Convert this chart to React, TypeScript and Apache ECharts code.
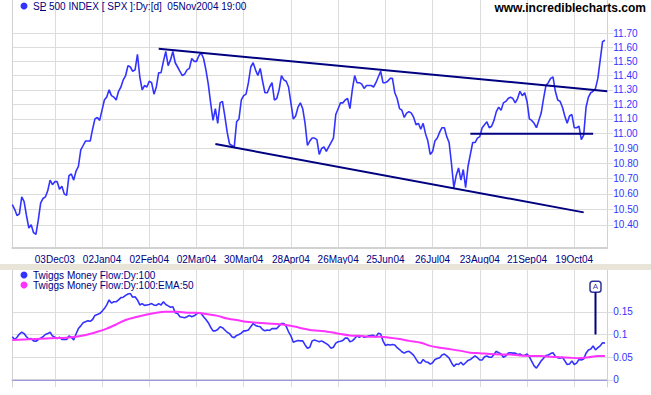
import React, { useEffect, useRef } from "react";
import * as echarts from "echarts";

const FONT = '"Liberation Sans", Arial, sans-serif';

// x axis: one category per trading day (06Nov03 .. 05Nov04) plus one spare slot
const N_CATEGORIES = 253;
const tickStart = 18;
const tickStep = 20;
const tickLabels = [
  "03Dec03", "02Jan04", "02Feb04", "02Mar04", "30Mar04", "28Apr04",
  "26May04", "25Jun04", "26Jul04", "23Aug04", "21Sep04", "19Oct04",
];

// S&P 500 / 100, daily close
const price = [
  10.53, 10.50, 10.46, 10.47, 10.58, 10.55, 10.46, 10.38, 10.40, 10.35,
  10.34, 10.43, 10.54, 10.57, 10.58, 10.62, 10.69, 10.66, 10.68, 10.68,
  10.63, 10.65, 10.60, 10.59, 10.72, 10.73, 10.69, 10.75, 10.78, 10.89,
  10.92, 10.95, 10.95, 10.95, 11.03, 11.10, 11.11, 11.09, 11.16, 11.23,
  11.25, 11.30, 11.26, 11.25, 11.23, 11.29, 11.32, 11.37, 11.40, 11.47,
  11.46, 11.43, 11.44, 11.55, 11.39, 11.30, 11.33, 11.32, 11.36, 11.35,
  11.27, 11.32, 11.42, 11.42, 11.50, 11.57, 11.47, 11.51, 11.57, 11.49,
  11.46, 11.43, 11.40, 11.41, 11.44, 11.45, 11.52, 11.50, 11.50, 11.54,
  11.56, 11.52, 11.44, 11.34, 11.21, 11.09, 11.17, 11.07, 11.21, 11.22,
  11.12, 11.01, 10.93, 10.92, 10.91, 11.08, 11.10, 11.23, 11.26, 11.27,
  11.35, 11.46, 11.49, 11.44, 11.40, 11.45, 11.36, 11.28, 11.28, 11.32,
  11.35, 11.23, 11.24, 11.30, 11.40, 11.37, 11.36, 11.32, 11.21, 11.10,
  11.12, 11.18, 11.21, 11.17, 11.07, 10.92, 10.95, 10.97, 10.97, 10.96,
  10.86, 10.90, 10.91, 10.88, 10.91, 10.94, 10.97, 11.13, 11.17, 11.21,
  11.21, 11.23, 11.24, 11.17, 11.30, 11.40, 11.35, 11.35, 11.34, 11.31,
  11.33, 11.33, 11.33, 11.32, 11.35, 11.39, 11.43, 11.35, 11.35, 11.36,
  11.38, 11.38, 11.28, 11.24, 11.17, 11.16, 11.11, 11.14, 11.15, 11.14,
  11.11, 11.06, 11.07, 11.03, 11.07, 11.00, 10.95, 10.86, 10.88, 10.95,
  10.97, 11.01, 11.04, 11.04, 10.98, 10.94, 10.80, 10.64, 10.72, 10.77,
  10.69, 10.76, 10.64, 10.78, 10.86, 10.94, 10.94, 10.97, 10.98, 11.04,
  11.06, 11.08, 11.04, 11.05, 11.09, 11.15, 11.18, 11.16, 11.21, 11.22,
  11.24, 11.25, 11.24, 11.21, 11.24, 11.29, 11.26, 11.28, 11.22, 11.10,
  11.09, 11.07, 11.04, 11.09, 11.14, 11.24, 11.33, 11.35, 11.38, 11.39,
  11.29, 11.23, 11.22, 11.18, 11.12, 11.07, 11.12, 11.13, 11.04, 11.04,
  11.05, 10.96, 10.99, 11.18, 11.25, 11.28, 11.29, 11.31, 11.38, 11.51,
  11.64, 11.65,
];

// Twiggs Money Flow (100 day)
const moneyFlow = [
  0.095, 0.089, 0.094, 0.101, 0.105, 0.102, 0.095, 0.090, 0.091, 0.086,
  0.085, 0.089, 0.092, 0.095, 0.100, 0.102, 0.105, 0.097, 0.094, 0.091,
  0.094, 0.089, 0.089, 0.089, 0.097, 0.094, 0.088, 0.101, 0.113, 0.119,
  0.126, 0.128, 0.130, 0.129, 0.133, 0.142, 0.144, 0.146, 0.151, 0.157,
  0.165, 0.176, 0.169, 0.172, 0.172, 0.176, 0.181, 0.182, 0.186, 0.189,
  0.190, 0.182, 0.183, 0.176, 0.165, 0.168, 0.164, 0.165, 0.166, 0.168,
  0.165, 0.164, 0.168, 0.165, 0.172, 0.166, 0.163, 0.160, 0.161, 0.148,
  0.146, 0.139, 0.138, 0.137, 0.139, 0.142, 0.139, 0.141, 0.145, 0.148,
  0.146, 0.139, 0.133, 0.126, 0.116, 0.108, 0.108, 0.111, 0.117, 0.115,
  0.110, 0.105, 0.102, 0.095, 0.093, 0.098, 0.100, 0.103, 0.108, 0.108,
  0.110, 0.117, 0.124, 0.120, 0.118, 0.117, 0.111, 0.108, 0.110, 0.109,
  0.113, 0.113, 0.113, 0.119, 0.124, 0.124, 0.118, 0.106, 0.097, 0.083,
  0.085, 0.087, 0.086, 0.086, 0.077, 0.070, 0.072, 0.086, 0.088, 0.086,
  0.084, 0.086, 0.083, 0.080, 0.076, 0.070, 0.072, 0.081, 0.084, 0.085,
  0.087, 0.092, 0.092, 0.084, 0.086, 0.091, 0.097, 0.094, 0.097, 0.094,
  0.095, 0.097, 0.098, 0.098, 0.094, 0.103, 0.101, 0.086, 0.076, 0.078,
  0.077, 0.078, 0.077, 0.071, 0.067, 0.062, 0.059, 0.062, 0.063, 0.059,
  0.054, 0.046, 0.038, 0.037, 0.045, 0.040, 0.039, 0.035, 0.038, 0.045,
  0.047, 0.049, 0.055, 0.057, 0.053, 0.048, 0.038, 0.030, 0.035, 0.034,
  0.039, 0.033, 0.038, 0.043, 0.045, 0.049, 0.053, 0.049, 0.044, 0.044,
  0.051, 0.053, 0.050, 0.050, 0.056, 0.063, 0.060, 0.057, 0.050, 0.053,
  0.059, 0.060, 0.059, 0.059, 0.056, 0.057, 0.054, 0.054, 0.057, 0.051,
  0.041, 0.031, 0.026, 0.034, 0.042, 0.048, 0.054, 0.055, 0.058, 0.060,
  0.052, 0.049, 0.048, 0.050, 0.042, 0.034, 0.035, 0.042, 0.034, 0.037,
  0.045, 0.044, 0.046, 0.059, 0.066, 0.068, 0.075, 0.066, 0.071, 0.075,
  0.082, 0.081,
];

// EMA(50) of money flow, read at these day indices
const emaIdx = [
  0, 9, 16, 23, 27, 32, 36, 40, 44, 48, 53, 57, 61, 65, 70, 74, 78, 82, 87, 91,
  95, 99, 104, 108, 112, 116, 120, 123, 126, 130, 135, 139, 143, 147, 152, 156,
  160, 164, 168, 173, 177, 181, 185, 190, 194, 198, 202, 207, 211, 215, 219,
  224, 228, 232, 236, 240, 244, 248, 251,
];
const emaVal = [
  0.088, 0.090, 0.092, 0.093, 0.095, 0.100, 0.106, 0.113, 0.122, 0.132, 0.139,
  0.144, 0.148, 0.150, 0.150, 0.148, 0.148, 0.145, 0.141, 0.135, 0.132, 0.128,
  0.126, 0.124, 0.123, 0.121, 0.117, 0.113, 0.110, 0.108, 0.105, 0.101, 0.098,
  0.097, 0.095, 0.095, 0.093, 0.090, 0.086, 0.082, 0.075, 0.071, 0.068, 0.064,
  0.060, 0.059, 0.057, 0.056, 0.056, 0.054, 0.053, 0.053, 0.051, 0.050, 0.049,
  0.048, 0.050, 0.053, 0.053,
];

// price axis (log scale) ticks and range
const priceTicks = [10.4, 10.5, 10.6, 10.7, 10.8, 10.9, 11.0, 11.1, 11.2, 11.3, 11.4, 11.5, 11.6, 11.7];
const priceMin = 10.253;
const priceMax = 11.942;
// money flow axis
const mfTicks = [0, 0.05, 0.1, 0.15];
const mfTickLabels = ["0", "0.05", "0.1", "0.15"];
const mfMin = -0.0154;
const mfMax = 0.2418;

// trend lines drawn on the chart: [dayIndex, price]
const trendUpper = [[62, 11.59], [252, 11.29]];
const trendLower = [[86, 10.93], [242, 10.48]];
const trendFlat = [[194, 11.0], [246, 11.0]];

// alert marker on money flow
const alertIdx = 247;
const alertFrom = 0.1;
const alertTo = 0.193;
const alertBox = 0.205;

const categories = Array.from({ length: N_CATEGORIES }, (_, i) => String(i));
const isTick = (i: number) =>
  i >= tickStart && (i - tickStart) % tickStep === 0 && (i - tickStart) / tickStep < tickLabels.length;
const labelAt = (i: number) => (isTick(i) ? tickLabels[(i - tickStart) / tickStep] : "");
const lg = (v: number) => Math.log10(v);

const NAVY = "#000080";
const BLUE = "#3333FF";
const GRID = "#DCDCDC";
const BORDER = "#D2D2D2";
const ZERO = "#9999DD";

function xAxis(gridIndex: number, showLabels: boolean) {
  return {
    type: "category",
    gridIndex,
    data: categories,
    boundaryGap: false,
    axisLine: { show: true, lineStyle: { color: BORDER, width: 2 } },
    axisTick: { show: false },
    axisLabel: {
      show: showLabels,
      interval: (i: number) => isTick(i),
      formatter: (v: string) => labelAt(Number(v)),
      color: NAVY,
      fontSize: 10,
      fontFamily: FONT,
      margin: 6,
    },
    splitLine: { show: true, interval: (i: number) => isTick(i), lineStyle: { color: GRID, width: 1 } },
  };
}

function trendSeries(pts: number[][]) {
  return {
    type: "line",
    xAxisIndex: 0,
    yAxisIndex: 0,
    data: pts.map(([i, v]) => [i, lg(v)]),
    symbol: "circle",
    symbolSize: 6,
    itemStyle: { color: NAVY },
    lineStyle: { color: NAVY, width: 2 },
    z: 4,
    silent: true,
  };
}

const priceTickPos = priceTicks.map(lg);
const nearestPriceLabel = (v: number) => {
  let best = 0;
  priceTickPos.forEach((p, k) => {
    if (Math.abs(p - v) < Math.abs(priceTickPos[best] - v)) best = k;
  });
  return priceTicks[best].toFixed(2);
};
const nearestMfLabel = (v: number) => {
  let best = 0;
  mfTicks.forEach((p, k) => {
    if (Math.abs(p - v) < Math.abs(mfTicks[best] - v)) best = k;
  });
  return mfTickLabels[best];
};

export default function App() {
  const ref = useRef<HTMLDivElement>(null);
  useEffect(() => {
    const chart = echarts.init(ref.current!, null, { renderer: "svg" });
    const option: any = {
      animation: false,
      backgroundColor: "#FFFFFF",
      textStyle: { fontFamily: FONT },
      grid: [
        { left: 12.3, right: 43.7, top: 0, height: 248 },
        { left: 12.3, right: 43.7, top: 270, height: 117 },
      ],
      xAxis: [xAxis(0, true), xAxis(1, false)],
      yAxis: [
        {
          type: "value", gridIndex: 0, position: "right", min: lg(priceMin), max: lg(priceMax),
          axisLine: { show: true, lineStyle: { color: BORDER, width: 1 } },
          axisTick: { show: true, customValues: priceTickPos, inside: false, length: 6, lineStyle: { color: GRID } },
          axisLabel: {
            show: true, customValues: priceTickPos, formatter: (v: number) => nearestPriceLabel(v),
            color: BLUE, fontSize: 10, fontFamily: FONT, margin: 6,
          },
          splitLine: { show: true, lineStyle: { color: GRID, width: 1 } },
        },
        {
          type: "value", gridIndex: 1, position: "right", min: mfMin, max: mfMax,
          axisLine: { show: true, lineStyle: { color: BORDER, width: 1 } },
          axisTick: { show: true, customValues: mfTicks, inside: false, length: 6, lineStyle: { color: GRID } },
          axisLabel: {
            show: true, customValues: mfTicks, formatter: (v: number) => nearestMfLabel(v),
            color: BLUE, fontSize: 10, fontFamily: FONT, margin: 6,
          },
          splitLine: { show: true, lineStyle: { color: GRID, width: 1 } },
        },
        {
          type: "value", gridIndex: 0, position: "left", min: lg(priceMin), max: lg(priceMax),
          axisLine: { show: true, lineStyle: { color: BORDER, width: 1 } },
          axisTick: { show: false }, axisLabel: { show: false }, splitLine: { show: false },
        },
        {
          type: "value", gridIndex: 1, position: "left", min: mfMin, max: mfMax,
          axisLine: { show: true, lineStyle: { color: BORDER, width: 1 } },
          axisTick: { show: false }, axisLabel: { show: false }, splitLine: { show: false },
        },
      ],
      series: [
        {
          type: "line", xAxisIndex: 0, yAxisIndex: 0, data: price.map(lg), symbol: "none",
          lineStyle: { color: BLUE, width: 1.6 }, z: 3, silent: true,
        },
        trendSeries(trendUpper),
        trendSeries(trendLower),
        trendSeries(trendFlat),
        {
          type: "line", xAxisIndex: 1, yAxisIndex: 1, data: moneyFlow, symbol: "none",
          lineStyle: { color: BLUE, width: 1.6 }, z: 3, silent: true,
          markLine: {
            silent: true,
            symbol: "none",
            precision: 8,
            z: 2,
            animation: false,
            label: { show: false },
            emphasis: { disabled: true },
            lineStyle: { color: ZERO, width: 1, type: "solid" },
            data: [{ yAxis: 0, lineStyle: { color: ZERO, width: 1, type: "solid" } }],
          },
        },
        {
          type: "line", xAxisIndex: 1, yAxisIndex: 1, data: emaIdx.map((i, k) => [i, emaVal[k]]),
          symbol: "none", smooth: 0.3, lineStyle: { color: "#FF33FF", width: 2 }, z: 4, silent: true,
        },
        {
          type: "line", xAxisIndex: 1, yAxisIndex: 1, data: [[alertIdx, alertFrom], [alertIdx, alertTo]],
          symbol: "none", lineStyle: { color: NAVY, width: 2 }, z: 5, silent: true,
        },
        {
          type: "scatter", xAxisIndex: 1, yAxisIndex: 1, data: [[alertIdx, alertBox]],
          symbol: "roundRect", symbolSize: 11,
          itemStyle: { color: "#FFFFFF", borderColor: NAVY, borderWidth: 1.5 },
          label: { show: true, position: "inside", formatter: "A", color: NAVY, fontSize: 8, fontFamily: FONT },
          z: 6, silent: true,
        },
      ],
      graphic: [
        { type: "rect", shape: { x: 0, y: 264, width: 651, height: 6 }, style: { fill: "#E8E5D8" }, z: 10 },
        { type: "circle", shape: { cx: 24, cy: 6, r: 3.5 }, style: { fill: BLUE }, z: 10 },
        {
          type: "text", x: 33, y: 6, z: 10,
          style: { text: "SP 500 INDEX [ SPX ]:Dy:[d]  05Nov2004 19:00", fill: NAVY, fontSize: 10, fontFamily: FONT, verticalAlign: "middle", textVerticalAlign: "middle" },
        },
        { type: "rect", shape: { x: 40, y: 10, width: 6, height: 1 }, style: { fill: NAVY }, z: 10 },
        {
          type: "text", x: 646, y: 7.5, z: 10,
          style: { text: "www.incrediblecharts.com", fill: "#000000", fontSize: 12, fontWeight: "bold", fontFamily: FONT, align: "right", textAlign: "right", verticalAlign: "middle", textVerticalAlign: "middle" },
        },
        { type: "circle", shape: { cx: 24, cy: 275, r: 3.5 }, style: { fill: BLUE }, z: 10 },
        {
          type: "text", x: 33, y: 275, z: 10,
          style: { text: "Twiggs Money Flow:Dy:100", fill: NAVY, fontSize: 10, fontFamily: FONT, verticalAlign: "middle", textVerticalAlign: "middle" },
        },
        { type: "circle", shape: { cx: 24, cy: 285, r: 3.5 }, style: { fill: "#FF33FF" }, z: 10 },
        {
          type: "text", x: 33, y: 285, z: 10,
          style: { text: "Twiggs Money Flow:Dy:100:EMA:50", fill: NAVY, fontSize: 10, fontFamily: FONT, verticalAlign: "middle", textVerticalAlign: "middle" },
        },
      ],
    };
    chart.setOption(option);
    return () => chart.dispose();
  }, []);
  return (
    <div
      ref={ref}
      style={{ position: "absolute", left: 0, top: 0, width: 651, height: 395, background: "#FFFFFF" }}
    />
  );
}
